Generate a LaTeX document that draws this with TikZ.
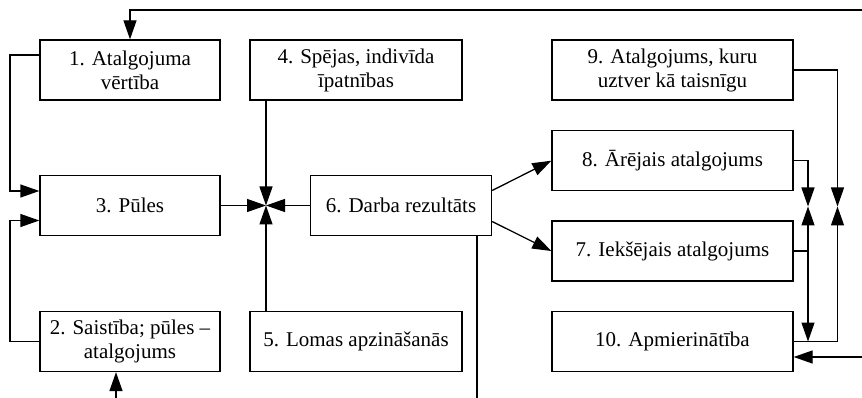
\documentclass[tikz,border=0pt]{standalone}
\usepackage{fontspec}
\setmainfont{Liberation Serif}
\usetikzlibrary{arrows.meta,calc}
\begin{document}
\begin{tikzpicture}[x=1pt,y=-1pt,
  box/.style={draw,line width=1.3pt,align=center,inner sep=0pt,
    font=\fontsize{21}{24}\selectfont},
  arr/.style={line width=1.3pt,-{Triangle[length=19pt,width=13pt]}},
  ln/.style={line width=1.3pt}]
\useasboundingbox (0,0) rectangle (862,398);
% boxes
\node[box,minimum width=180pt,minimum height=60pt] (b1) at (130,70) {1. Atalgojuma\\vērtība};
\node[box,minimum width=212pt,minimum height=60pt] (b4) at (356,70) {4. Spējas, indivīda\\īpatnības};
\node[box,minimum width=241pt,minimum height=60pt] (b9) at (672.5,70) {9. Atalgojums, kuru\\uztver kā taisnīgu};
\node[box,minimum width=241pt,minimum height=60pt] (b8) at (672.5,160.7) {8. Ārējais atalgojums};
\node[box,minimum width=180pt,minimum height=60pt] (b3) at (130,205.5) {3. Pūles};
\node[box,minimum width=181pt,minimum height=60pt] (b6) at (401,205.5) {6. Darba rezultāts};
\node[box,minimum width=241pt,minimum height=60pt] (b7) at (672.5,251) {7. Iekšējais atalgojums};
\node[box,minimum width=180pt,minimum height=60pt] (b2) at (130,341.5) {2. Saistība; pūles –\\atalgojums};
\node[box,minimum width=212pt,minimum height=60pt] (b5) at (356,341.5) {5. Lomas apzināšanās};
\node[box,minimum width=241pt,minimum height=60pt] (b10) at (672.5,341.5) {10. Apmierinātība};
% junctions, the left rail and free ends
\coordinate (J) at (266,205.5);
\coordinate (J1) at (808,206.5);
\coordinate (J2) at (837.5,206.5);
\coordinate (L) at (10,0);
\coordinate (topin) at (862,10);
\coordinate (botin) at (116,398);
\coordinate (botout) at (477,398);
\coordinate (rin) at (862,357);
% feedback along the top into 1
\draw[arr] (topin) -| (b1.north);
% 1 and 2 into 3
\draw[arr] ([yshift=15pt]b1.west) coordinate (s1) -- (s1 -| L) |- ([yshift=14.5pt]b3.west);
\draw[arr] (b2.west) -- (b2.west -| L) |- ([yshift=-15pt]b3.west);
\draw[arr] (botin) -- (botin |- b2.south);
% converging on the junction before 6
\draw[arr] (b4.south -| J) -- (J);
\draw[arr] (b5.north -| J) -- (J);
\draw[arr] (b3.east) -- (J);
\draw[arr] (b6.west) -- (J);
% from 6
\draw[arr] ([yshift=15pt]b6.east) -- (b8.west);
\draw[arr] ([yshift=-16pt]b6.east) -- (b7.west);
\draw[ln] (b6.south -| botout) -- (botout);
% rewards towards satisfaction
\draw[arr] (b8.east) -| (J1);
\draw[arr] (b9.east) -| (J2);
\draw[arr] (b7.east) -| (J1);
\draw[arr] (b7.east -| J1) -- (J1 |- b10.east);
\draw[arr] (b10.east) -| (J2);
\draw[arr] (rin) -- (rin -| b10.east);
\end{tikzpicture}
\end{document}
